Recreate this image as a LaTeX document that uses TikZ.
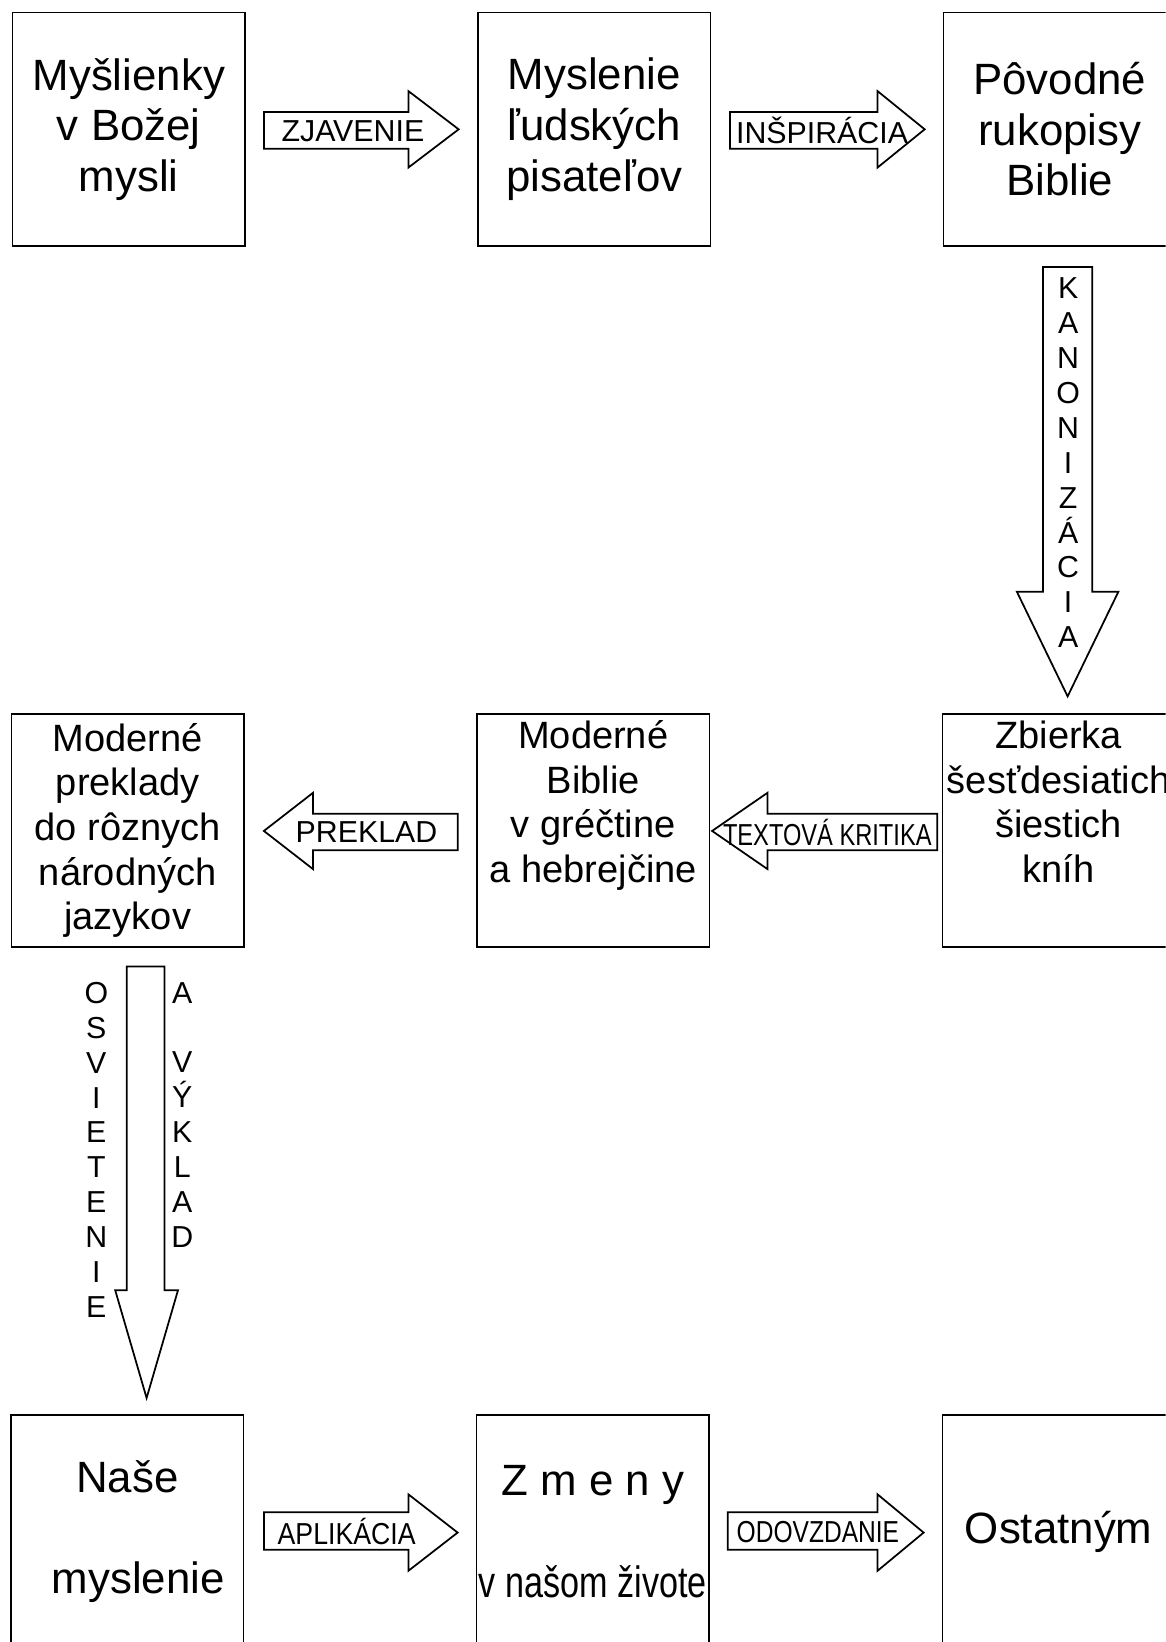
\documentclass[tikz,border=0pt]{standalone}
\usepackage{fontspec}
\setmainfont{Liberation Sans}
\usepackage{graphicx}
\usepackage{tikz}
\tikzstyle{box} = [draw, line width=1pt, minimum width=4.662cm, minimum height=4.683cm, align=center, inner sep=0pt]
\tikzstyle{bigtext} = [font=\fontsize{25}{28.9}\selectfont]
\tikzstyle{midtext} = [font=\fontsize{21.7}{25.4}\selectfont]
\tikzstyle{blockarrow} = [draw, line width=1pt, fill=white, line join=miter]
\tikzstyle{arrowtext} = [font=\fontsize{17.3}{19.9}\selectfont, inner sep=0pt, align=center]

\begin{document}
\begin{tikzpicture}[x=0.021cm, y=-0.021cm]
		\useasboundingbox (0,0) rectangle (1113,1568);
		\clip (0,0) rectangle (1113,1568);

		\node[box, bigtext] (mysl) at (123,123.5) {Myšlienky\\v Božej\\mysli};
		\node[box, bigtext] (pisat) at (567.5,123.5) {Myslenie\\ľudských\\pisateľov};
		\node[box, bigtext] (rukop) at (1012,123.5) {Pôvodné\\rukopisy\\Biblie};
		\node[box, midtext] (prekl) at (122,793) {Moderné\\preklady\\do rôznych\\národných\\jazykov};
		\node[box, midtext] (biblie) at (566.5,793) {Moderné\\Biblie\\v gréčtine\\a hebrejčine\\ \strut};
		\node[box, midtext] (zbierka) at (1011,793) {Zbierka\\šesťdesiatich\\šiestich\\kníh\\ \strut};
		\node[box, bigtext] (nase) at (121.5,1462.5) {Naše\\ \strut\\\hspace*{0.44cm}myslenie};
		\node[box, bigtext] (zmeny) at (566,1462.5) {Z m e n y\\ \strut\\\scalebox{0.78}[1]{v našom živote}};
		\node[box, bigtext] (ostat) at (1011,1462.5) {Ostatným};

		\draw[blockarrow] (252,107) -- (390,107) -- (390,87) -- (438,123.5) -- (390,160) -- (390,142) -- (252,142) -- cycle;
		\node[arrowtext] (zjav) at (337,125) {ZJAVENIE};
		\draw[blockarrow] (697,107) -- (838,107) -- (838,87) -- (883,123.5) -- (838,160) -- (838,142) -- (697,142) -- cycle;
		\node[arrowtext] (insp) at (785,125) {INŠPIRÁCIA};

		\draw[blockarrow] (996,255) -- (1043,255) -- (1043,565) -- (1068,565) -- (1019.5,665) -- (971,565) -- (996,565) -- cycle;
		\node[arrowtext] (kanon) at (1020,442) {K\\A\\N\\O\\N\\I\\Z\\Á\\C\\I\\A};

		\draw[blockarrow] (437,777) -- (299,777) -- (299,757) -- (252,793.5) -- (299,830) -- (299,812) -- (437,812) -- cycle;
		\node[arrowtext] (prek) at (350,795) {PREKLAD};
		\draw[blockarrow] (895,777) -- (733,777) -- (733,757) -- (680,793.5) -- (733,830) -- (733,812) -- (895,812) -- cycle;
		\node[arrowtext] (krit) at (790,795) {\scalebox{0.78}[1]{TEXTOVÁ KRITIKA}};

		\draw[blockarrow] (121,923) -- (157,923) -- (157,1232) -- (170,1232) -- (140,1335) -- (110,1232) -- (121,1232) -- cycle;
		\node[arrowtext] (osv) at (92,1098) {O\\S\\V\\I\\E\\T\\E\\N\\I\\E};
		\node[arrowtext] (vykl) at (174,1064.5) {A\\\mbox{}\\V\\Ý\\K\\L\\A\\D};

		\draw[blockarrow] (252,1444) -- (390,1444) -- (390,1427) -- (437,1463.5) -- (390,1500) -- (390,1480) -- (252,1480) -- cycle;
		\node[arrowtext] (apl) at (331,1462) {\scalebox{0.88}[1]{APLIKÁCIA}};
		\draw[blockarrow] (695,1444) -- (838,1444) -- (838,1427) -- (882,1463.5) -- (838,1500) -- (838,1480) -- (695,1480) -- cycle;
		\node[arrowtext] (odov) at (781,1463) {\scalebox{0.81}[1]{ODOVZDANIE}};
	\end{tikzpicture}
\end{document}
